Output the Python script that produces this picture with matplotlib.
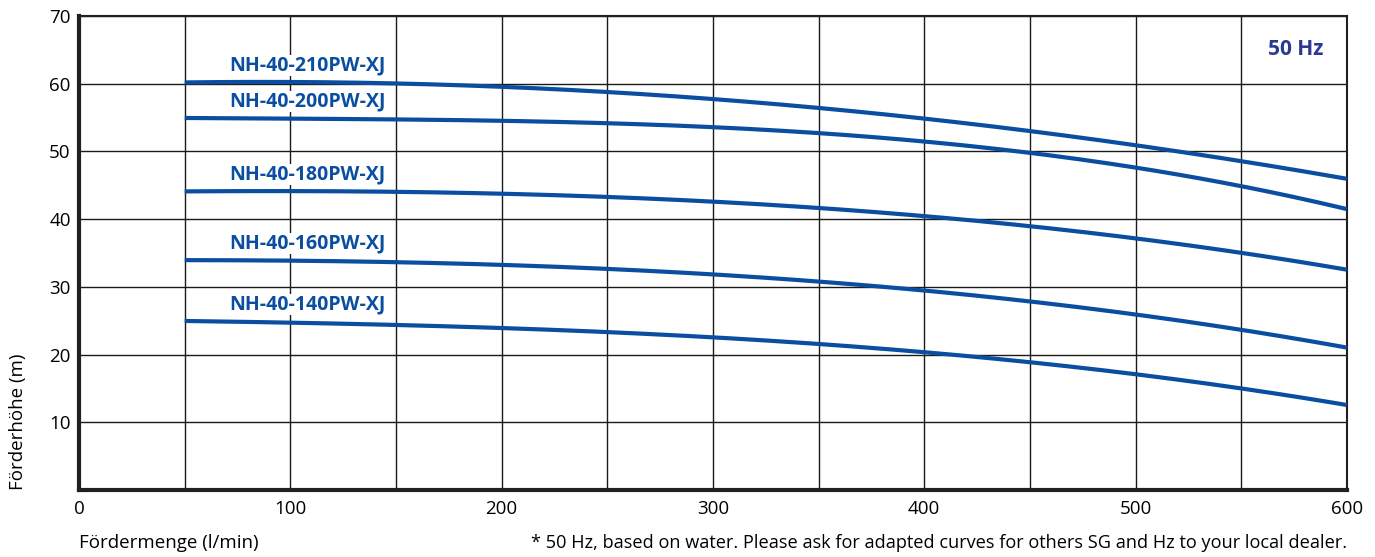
import matplotlib.pyplot as plt
import numpy as np

plt.rcParams['font.family'] = ['Open Sans', 'DejaVu Sans']

# flow (l/min) sample points
flow = [50, 100, 200, 300, 400, 450, 500, 550, 600]

# head (m) for each pump
heads = {
    'NH-40-210PW-XJ': [60.3, 60.1, 59.5, 57.8, 55.0, 53.0, 50.8, 48.4, 46.1],
    'NH-40-200PW-XJ': [55.0, 54.8, 54.4, 53.6, 51.7, 49.9, 47.4, 44.6, 41.7],
    'NH-40-180PW-XJ': [44.2, 44.0, 43.7, 42.7, 40.6, 38.8, 37.1, 35.0, 32.6],
    'NH-40-160PW-XJ': [34.0, 33.8, 33.2, 31.9, 29.5, 27.9, 25.8, 23.6, 21.1],
    'NH-40-140PW-XJ': [25.0, 24.7, 23.8, 22.6, 20.5, 18.9, 17.0, 14.8, 12.7],
}

xticks = [0, 100, 200, 300, 400, 500, 600]
yticks = [10, 20, 30, 40, 50, 60, 70]

blue = '#0a4ea2'

fig = plt.figure(figsize=(13.75, 5.57), dpi=100)
ax = fig.add_axes([0.0575, 0.1203, 0.922, 0.851])

for name, h in heads.items():
    # smooth the curve through the read points
    xs = np.linspace(flow[0], flow[-1], 200)
    coef = np.polyfit(flow, h, 3)
    ax.plot(xs, np.polyval(coef, xs), color=blue, lw=3, solid_capstyle='butt', zorder=3)
    ax.text(145, h[0] + 0.9, name, color=blue, fontsize=14, fontweight='bold',
            ha='right', va='bottom', zorder=4,
            bbox=dict(facecolor='white', edgecolor='none', pad=0.5))

ax.text(589, 65.0, '50 Hz', color='#2b3990', fontsize=15, fontweight='bold',
        ha='right', va='center')

ax.set_xlim(0, 600)
ax.set_ylim(0, 70)
ax.set_xticks(xticks)
ax.set_yticks(yticks)
ax.set_xticks(np.arange(50, 600, 100), minor=True)
ax.tick_params(which='both', length=0, labelsize=13.5)
ax.tick_params(axis='x', pad=7)
ax.tick_params(axis='y', pad=6)
ax.grid(True, which='both', color='#1a1a1a', lw=1)
ax.set_axisbelow(True)

ax.spines['left'].set_linewidth(3)
ax.spines['bottom'].set_linewidth(3)
ax.spines['top'].set_linewidth(1.5)
ax.spines['right'].set_linewidth(1.5)
for s in ax.spines.values():
    s.set_color('#231f20')

fig.text(0.013, 0.12, 'Förderhöhe (m)', rotation=90, fontsize=13.5, ha='center', va='bottom')
fig.text(0.0575, 0.025, 'Fördermenge (l/min)', fontsize=13.5, ha='left', va='center')
fig.text(0.9796, 0.025,
         '* 50 Hz, based on water. Please ask for adapted curves for others SG and Hz to your local dealer.',
         fontsize=13.1, ha='right', va='center')

plt.savefig('out.png', dpi=100)
